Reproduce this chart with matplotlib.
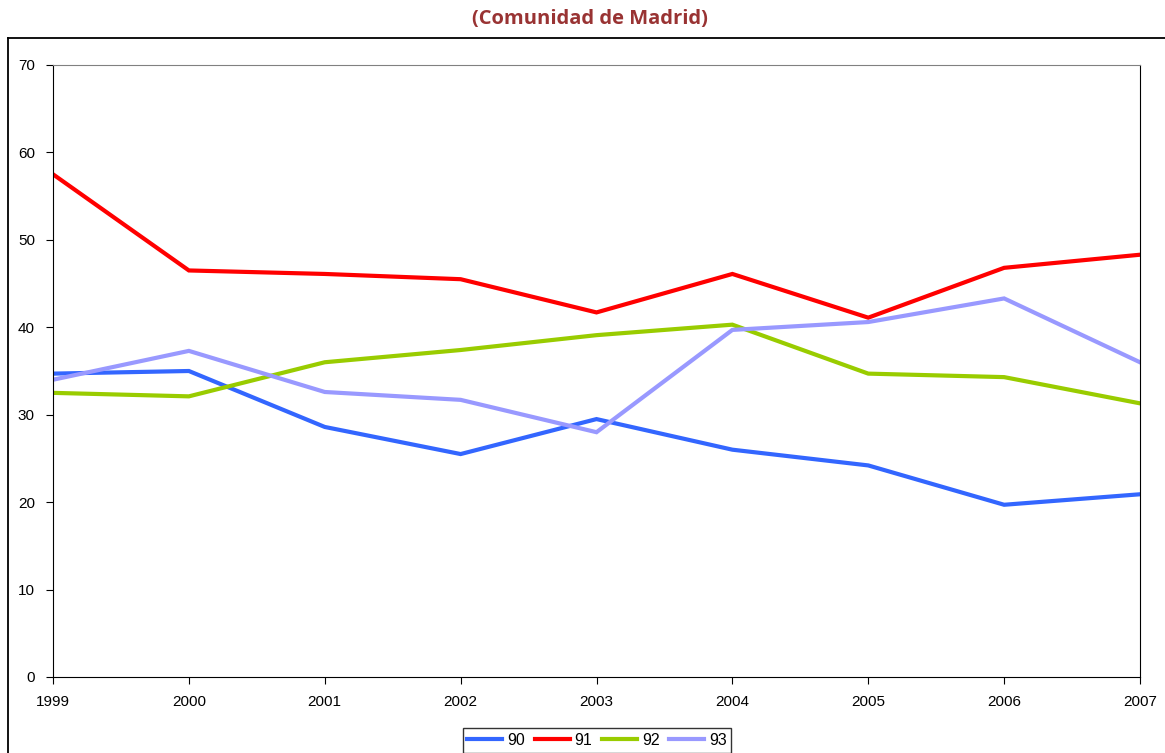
import matplotlib.pyplot as plt
from matplotlib.lines import Line2D

# Data
years = [1999, 2000, 2001, 2002, 2003, 2004, 2005, 2006, 2007]
s90 = [34.7, 35.0, 28.6, 25.5, 29.5, 26.0, 24.2, 19.7, 20.9]
s91 = [57.5, 46.5, 46.1, 45.5, 41.7, 46.1, 41.1, 46.8, 48.3]
s92 = [32.5, 32.1, 36.0, 37.4, 39.1, 40.3, 34.7, 34.3, 31.3]
s93 = [34.0, 37.3, 32.6, 31.7, 28.0, 39.7, 40.6, 43.3, 36.0]
labels = ['90', '91', '92', '93']

plt.rcParams['font.family'] = ['Liberation Sans', 'DejaVu Sans']

fig = plt.figure(figsize=(11.65, 7.53), dpi=100)
ax = fig.add_axes([53/1165, 1-677/753, (1140-53)/1165, (677-65)/753])

cols = ['#3366FF', '#FF0000', '#99CC00', '#9999FF']
for ser, c, lab in zip([s90, s91, s92, s93], cols, labels):
    ax.plot(years, ser, color=c, lw=3, label=lab, solid_joinstyle='miter')

ax.set_xlim(1999, 2007)
ax.set_ylim(0, 70)
ax.set_xticks(years)
ax.set_yticks(range(0, 71, 10))
ax.tick_params(labelsize=11, length=5, width=0.8, pad=8)
ax.spines['top'].set_color('#808080')
for s in ['left', 'bottom', 'right']:
    ax.spines[s].set_color('black')

# title outside the frame
fig.text(590/1165, 1-19/753, '(Comunidad de Madrid)', ha='center', va='center',
         fontsize=14.5, fontweight='bold', color='#993333', family='Open Sans')

# outer chart frame (clipped at right and bottom)
fig.add_artist(Line2D([8/1165, 1.01], [1-38/753, 1-38/753], color='black', lw=1.3))
fig.add_artist(Line2D([8/1165, 8/1165], [1-38/753, -0.01], color='black', lw=1.3))

fig.legend(loc='upper center', bbox_to_anchor=(597/1165, 1-728/753), ncol=4,
           fontsize=11.5, frameon=True, fancybox=False, edgecolor='black',
           borderaxespad=0, handlelength=2.2, handletextpad=0.3, columnspacing=0.6,
           borderpad=0.3)

plt.savefig('out.png', dpi=100)
